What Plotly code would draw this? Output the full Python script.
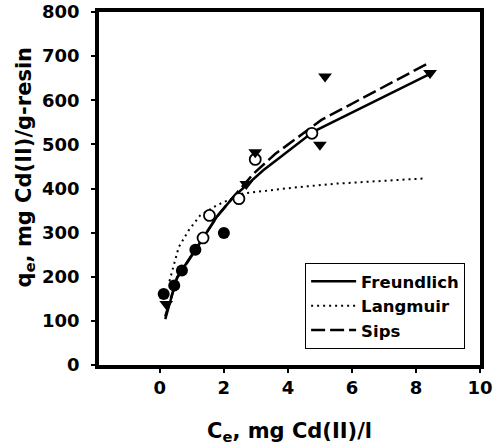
import plotly.graph_objects as go

filled_x = [0.12, 0.45, 0.69, 1.11, 2.0]
filled_y = [161, 180, 214, 261, 299]
open_x = [1.35, 1.55, 2.47, 2.98, 4.75]
open_y = [288, 339, 377, 466, 525]
tri_x = [0.2, 2.7, 2.98, 5.0, 5.16, 8.44]
tri_y = [138, 410, 482, 499, 654, 662]

# Model curves
freund_x = [0.17, 0.54, 1.16, 1.78, 2.30, 2.82, 3.24, 3.76, 4.80, 8.44]
freund_y = [104, 199, 267, 336, 381, 415, 442, 471, 529, 660]
lang_x = [0.30, 0.59, 0.90, 1.26, 1.78, 2.61, 3.45, 4.17, 5.5, 8.3]
lang_y = [190, 267, 305, 339, 362, 389, 396, 402, 411, 423]
sips_x = [0.17, 0.54, 1.16, 1.78, 2.30, 2.93, 3.60, 4.75, 5.06, 8.44]
sips_y = [110, 197, 266, 336, 381, 434, 478, 540, 556, 686]

x_ticks = [0, 2, 4, 6, 8, 10]
y_ticks = [0, 100, 200, 300, 400, 500, 600, 700, 800]

FONT = "DejaVu Sans, Liberation Sans, Arial, sans-serif"

fig = go.Figure()
fig.add_trace(go.Scatter(x=freund_x, y=freund_y, mode="lines", name="Freundlich",
                         line=dict(color="black", width=2.5)))
fig.add_trace(go.Scatter(x=lang_x, y=lang_y, mode="lines", name="Langmuir",
                         line=dict(color="black", width=2, dash="2px,4px")))
fig.add_trace(go.Scatter(x=sips_x, y=sips_y, mode="lines", name="Sips",
                         line=dict(color="black", width=2.5, dash="14px,5px")))
fig.add_trace(go.Scatter(x=filled_x, y=filled_y, mode="markers", showlegend=False,
                         marker=dict(symbol="circle", size=12, color="black")))
fig.add_trace(go.Scatter(x=open_x, y=open_y, mode="markers", showlegend=False,
                         marker=dict(symbol="circle", size=11, color="white",
                                     line=dict(color="black", width=1.8))))
fig.add_trace(go.Scatter(x=tri_x, y=tri_y, mode="markers", showlegend=False,
                         marker=dict(symbol="triangle-down", size=12, color="black")))

axis_common = dict(showline=True, linecolor="black", linewidth=3.5, mirror=True,
                   ticks="outside", ticklen=4, tickwidth=2, tickcolor="black",
                   showgrid=False, zeroline=False, automargin=False,
                   tickfont=dict(family=FONT, size=18, color="black", weight="bold"))

title_font = dict(family=FONT, size=21, color="black", weight="bold")

fig.update_layout(
    width=493, height=446,
    margin=dict(l=99, r=13, t=12, b=81),
    paper_bgcolor="white", plot_bgcolor="white",
    font=dict(family=FONT, color="black"),
    xaxis=dict(range=[-1.9, 10], tickvals=x_ticks, ticklabelstandoff=0, **axis_common),
    yaxis=dict(range=[0, 800], tickvals=y_ticks, ticklabelstandoff=8, **axis_common),
    legend=dict(x=0.541, y=0.289, xanchor="left", yanchor="top",
                bgcolor="white", bordercolor="black", borderwidth=1, itemwidth=45,
                font=dict(family=FONT, size=16.5, color="black", weight="bold")),
    annotations=[
        dict(text="C<sub>e</sub>, mg Cd(II)/l", xref="paper", yref="paper",
             x=0.5, y=-0.19, xanchor="center", yanchor="middle",
             showarrow=False, font=title_font),
        dict(text="q<sub>e</sub>, mg Cd(II)/g-resin", xref="paper", yref="paper",
             x=-0.194, y=0.56, xanchor="center", yanchor="middle", textangle=-90,
             showarrow=False, font=title_font),
    ],
)

fig.write_html("out.html")
